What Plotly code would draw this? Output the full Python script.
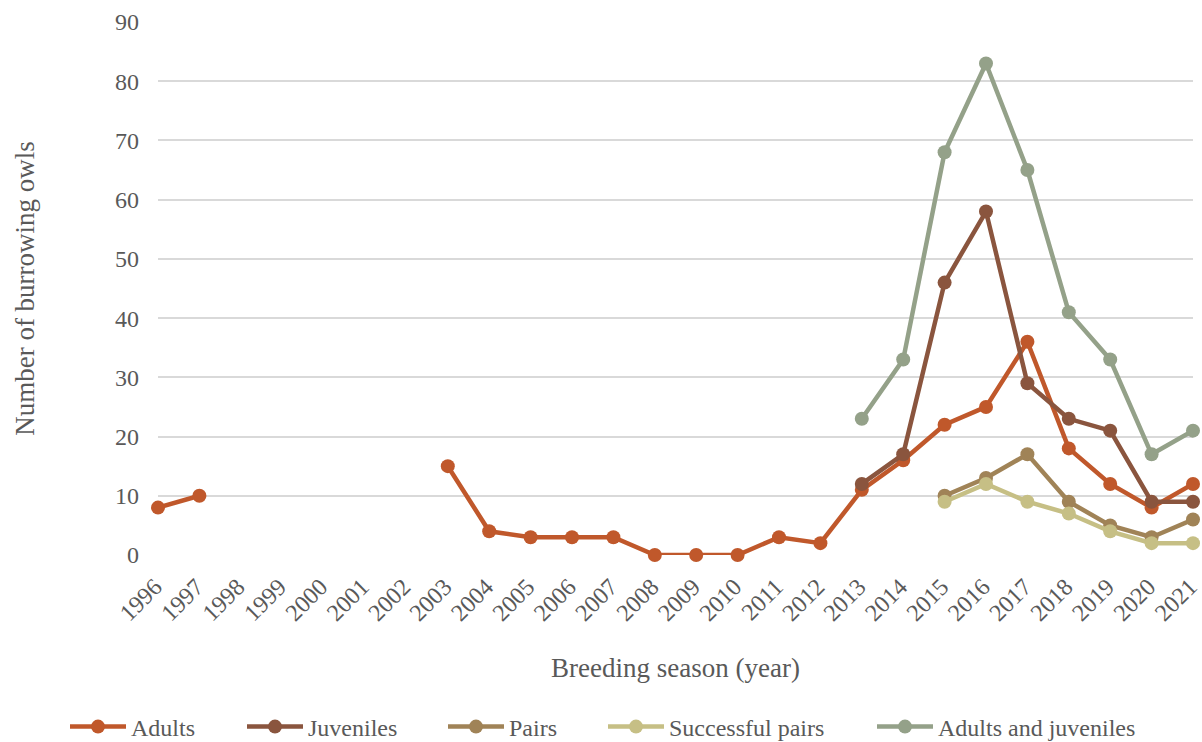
import plotly.graph_objects as go

years = [str(y) for y in range(1996, 2022)]
N = None
adults = [8, 10, N, N, N, N, N, 15, 4, 3, 3, 3, 0, 0, 0, 3, 2, 11, 16, 22, 25, 36, 18, 12, 8, 12]
juveniles = [N]*17 + [12, 17, 46, 58, 29, 23, 21, 9, 9]
pairs = [N]*19 + [10, 13, 17, 9, 5, 3, 6]
successful = [N]*19 + [9, 12, 9, 7, 4, 2, 2]
adults_juv = [N]*17 + [23, 33, 68, 83, 65, 41, 33, 17, 21]

series_names = ["Adults", "Juveniles", "Pairs", "Successful pairs", "Adults and juveniles"]
series_values = [adults, juveniles, pairs, successful, adults_juv]
colors = ["#C0582B", "#8A553E", "#A08357", "#C6BF85", "#94A189"]
legend_px = [65, 242, 443, 603, 872]

font = "Liberation Serif, Times New Roman, serif"
txt = "#595959"

fig = go.Figure()
layout_legends = {}
for i, (name, vals, col) in enumerate(zip(series_names, series_values, colors)):
    lg = "legend" if i == 0 else f"legend{i+1}"
    fig.add_trace(go.Scatter(
        x=years, y=vals, name=name, mode="lines+markers",
        line=dict(color=col, width=4.5),
        marker=dict(color=col, size=14),
        connectgaps=False, cliponaxis=False, legend=lg,
    ))
    layout_legends[lg] = dict(
        xref="container", yref="container",
        x=legend_px[i] / 1202, xanchor="left",
        y=1 - 727 / 742, yanchor="middle",
        orientation="h", bgcolor="rgba(0,0,0,0)",
        font=dict(family=font, size=24, color=txt),
        itemwidth=56,
    )

fig.update_layout(
    width=1202, height=742,
    margin=dict(l=158, r=9, t=22, b=187),
    paper_bgcolor="white", plot_bgcolor="white",
    font=dict(family=font, size=24, color=txt),
    showlegend=True,
    xaxis=dict(type="category", range=[0, 25], tickangle=-45, automargin=False,
               showgrid=False, showline=False, ticks="",
               ticklabelstandoff=12, ticklabelshift=-3,
               tickfont=dict(size=24, color=txt),
               title=dict(text="Breeding season (year)", font=dict(size=27, color=txt), standoff=33)),
    yaxis=dict(range=[0, 90], dtick=10, showgrid=True, gridcolor="#D9D9D9", gridwidth=1.5,
               zeroline=False, showline=False, ticks="", automargin=False,
               ticklabelstandoff=18,
               tickfont=dict(size=24, color=txt),
               title=dict(text="Number of burrowing owls", font=dict(size=27, color=txt), standoff=72)),
    **layout_legends,
)
fig.write_html("out.html", config={"displayModeBar": False},
               post_script="document.body.style.margin='0';document.body.style.overflow='hidden';")
